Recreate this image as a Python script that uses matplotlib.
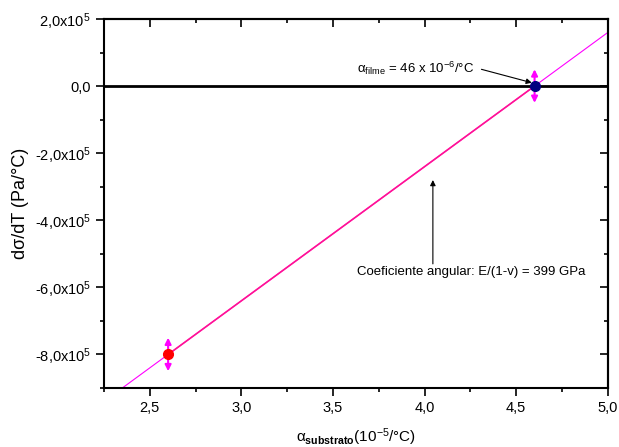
import matplotlib
matplotlib.use("Agg")
import matplotlib.pyplot as plt
import numpy as np
from matplotlib.ticker import FuncFormatter, MultipleLocator

plt.rcParams["font.family"] = ["Liberation Sans", "DejaVu Sans"]
plt.rcParams["mathtext.fontset"] = "custom"
plt.rcParams["mathtext.rm"] = "Liberation Sans"
plt.rcParams["mathtext.it"] = "Liberation Sans"
plt.rcParams["mathtext.bf"] = "Liberation Sans:bold"

# data (alpha substrato in 1e-5/°C, dsigma/dT in Pa/°C)
alpha_sub = [2.6, 4.6]
dsig_dt = [-8.0e5, 0.0]
dsig_err = [0.5e5, 0.5e5]
point_colors = ["red", "navy"]
fit_range = [2.2, 5.1]

slope, intercept = np.polyfit(alpha_sub, dsig_dt, 1)


def y_fmt(v, pos):
    if abs(v) < 1:
        return "0,0"
    exp = int(np.floor(np.log10(abs(v))))
    mant = v / 10 ** exp
    return ("%.1f" % mant).replace(".", ",") + "x10$^{%d}$" % exp


fig = plt.figure(figsize=(6.19, 4.47), dpi=100)
ax = fig.add_axes([0.168, 0.132, 0.814, 0.8255])

fx = np.array(fit_range)
ax.plot(fx, slope * fx + intercept, color="magenta", lw=0.8, zorder=2)
ax.plot(alpha_sub, dsig_dt, color="#ff1493", lw=1.2, zorder=2)
ax.axhline(0, color="black", lw=2, zorder=1)

for x, y, e, c in zip(alpha_sub, dsig_dt, dsig_err, point_colors):
    ax.annotate("", xy=(x, y + e), xytext=(x, y - e),
                arrowprops=dict(arrowstyle="<|-|>", color="magenta", lw=1.5,
                                mutation_scale=9, shrinkA=0, shrinkB=0), zorder=3)
    ax.plot(x, y, "o", color=c, ms=7, zorder=4)

ax.text(3.63, 0.54e5, r"$\alpha_{\mathrm{filme}}$ = 46 x 10$^{-6}$/°C",
        fontsize=9.5, ha="left", va="center")
ax.annotate("", xy=(4.585, 0.1e5), xytext=(4.31, 0.5e5),
            arrowprops=dict(arrowstyle="-|>", color="black", lw=0.8,
                            mutation_scale=8, shrinkA=0, shrinkB=0))
ax.text(3.63, -5.55e5, "Coeficiente angular: E/(1-v) = 399 GPa",
        fontsize=9.5, ha="left", va="center")
ax.annotate("", xy=(4.045, -2.8e5), xytext=(4.045, -5.3e5),
            arrowprops=dict(arrowstyle="-|>", color="black", lw=0.8,
                            mutation_scale=8, shrinkA=0, shrinkB=0))

ax.set_xlim(2.25, 5.0)
ax.set_ylim(-9e5, 2e5)
ax.xaxis.set_major_locator(MultipleLocator(0.5))
ax.xaxis.set_minor_locator(MultipleLocator(0.25))
ax.yaxis.set_major_locator(MultipleLocator(2e5))
ax.yaxis.set_minor_locator(MultipleLocator(1e5))
ax.xaxis.set_major_formatter(FuncFormatter(lambda v, p: ("%.1f" % v).replace(".", ",")))
ax.yaxis.set_major_formatter(FuncFormatter(y_fmt))

ax.tick_params(which="both", direction="out", top=False, right=False, labelsize=10.5, width=1.2)
ax.tick_params(which="major", length=6)
ax.tick_params(which="minor", length=3)
sec_x = ax.secondary_xaxis("top")
sec_x.xaxis.set_major_locator(MultipleLocator(0.5))
sec_x.xaxis.set_minor_locator(MultipleLocator(0.25))
sec_x.tick_params(which="both", direction="in", labeltop=False, width=1.2)
sec_x.tick_params(which="major", length=6)
sec_x.tick_params(which="minor", length=3)
sec_y = ax.secondary_yaxis("right")
sec_y.yaxis.set_major_locator(MultipleLocator(2e5))
sec_y.yaxis.set_minor_locator(MultipleLocator(1e5))
sec_y.tick_params(which="both", direction="in", labelright=False, width=1.2)
sec_y.tick_params(which="major", length=6)
sec_y.tick_params(which="minor", length=3)
for s in ax.spines.values():
    s.set_linewidth(1.5)
sec_x.spines["top"].set_linewidth(1.5)
sec_y.spines["right"].set_linewidth(1.5)

ax.set_ylabel("dσ/dT (Pa/°C)", fontsize=13, labelpad=4)
ax.set_xlabel(r"$\alpha_{\mathbf{substrato}}$(10$^{-5}$/°C)", fontsize=11, labelpad=8)

fig.savefig("out.png", dpi=100)
